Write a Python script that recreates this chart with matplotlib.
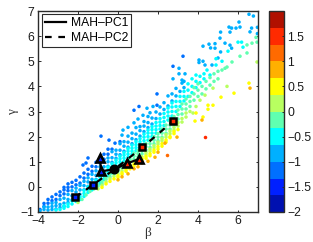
import matplotlib
matplotlib.use('Agg')
import matplotlib.pyplot as plt
from matplotlib.colors import ListedColormap

plt.rcParams['font.family'] = ['Liberation Sans', 'DejaVu Sans']

# each band: colour value, then columns of (beta, [gamma, ...])
blue_val = -1.17
blue_cols = [(-3.9, [-0.9]), (-3.7, [-0.78, -0.66]), (-3.5, [-0.65, -0.5]), (-3.3, [-0.55, -0.4]),
             (-3.1, [-0.5, -0.3]), (-2.9, [-0.35, -0.2]), (-2.7, [-0.28, -0.12, -0.02]),
             (-2.5, [-0.15, -0.02, 0.12]), (-2.3, [0, 0.18]), (-2.1, [0.08, 0.26]), (-1.9, [0.15, 0.4]),
             (-1.7, [0.35, 0.55]), (-1.75, [0.87]), (-1.6, [0.95]), (-1.5, [0.5, 0.7, 1.15]),
             (-1.3, [0.62, 0.82]), (-1.1, [0.8, 0.98]), (-0.9, [0.95, 1.1]), (-0.85, [2.02]),
             (-0.7, [1.1, 1.3]), (-0.5, [1.3, 1.5]), (-0.45, [1.86]), (-0.3, [1.5]), (-0.15, [1.74]),
             (0.1, [1.8]), (0.8, [3.05]), (1.05, [3.2]), (1.95, [3.7, 3.25]), (2.75, [4.8]), (3.25, [5.2])]

sky_val = -0.83
sky_cols = [(-3.9, [-0.95]), (-3.7, [-0.9, -0.8]), (-3.5, [-0.92, -0.8]), (-3.3, [-0.9, -0.78, -0.65]),
            (-3.1, [-0.88, -0.75, -0.62]), (-2.9, [-0.82, -0.7, -0.5]),
            (-2.7, [-0.78, -0.65, -0.45]), (-2.5, [-0.62, -0.5, -0.3]),
            (-2.3, [-0.52, -0.35, -0.15]), (-2.1, [-0.38, -0.2, -0.05]),
            (-1.9, [-0.3, -0.12, 0.06]), (-1.7, [-0.12, 0.05, 0.22]),
            (-1.5, [0.02, 0.2, 0.36]), (-1.3, [0.14, 0.3, 0.5]),
            (-1.1, [0.3, 0.46, 0.64]), (-0.9, [0.44, 0.62, 0.8]),
            (-0.7, [0.62, 0.8, 1.0]), (-0.5, [0.82, 1.0, 1.15]),
            (-0.3, [0.98, 1.16, 1.4]), (-0.1, [1.14, 1.3, 1.46]),
            (0.1, [1.28, 1.46, 1.72]), (0.3, [1.42, 1.62, 1.8]), (0.5, [1.58, 1.78, 2.02]),
            (0.7, [1.72, 1.92, 2.14]), (0.9, [1.88, 2.1, 2.36]), (1.1, [2.02, 2.24, 2.4]),
            (1.3, [2.2, 2.42, 2.6]), (1.5, [2.36, 2.56, 2.8]), (1.7, [2.5, 2.74]),
            (1.9, [2.72, 2.98]), (2.1, [2.9, 3.18]), (2.3, [3.08, 3.35]),
            (2.5, [3.22, 3.62]), (2.7, [3.42, 3.7]), (2.9, [3.62, 3.92]), (3.1, [3.8]),
            (3.3, [3.95, 4.2]), (0.25, [2.26]), (0.5, [2.37]), (0.8, [2.55]), (1.0, [2.7]), (1.25, [2.85]),
            (0.2, [2.06]), (1.6, [2.95]), (1.75, [3.2]), (1.45, [3.13]), (2.75, [4.3]), (3.05, [4.72, 4.5]),
            (3.35, [4.5]), (3.2, [4.25, 4.13]), (4.05, [5.05, 4.95]), (4.25, [5.6, 5.0]), (4.55, [5.68]),
            (4.85, [5.7, 5.52]), (4.63, [5.53]), (5.13, [6.16, 5.37]), (5.1, [5.92]), (5.35, [5.72]),
            (5.6, [6.16, 5.64]), (5.55, [6.36]), (5.68, [6.32, 5.52]), (5.9, [6.32]), (6.05, [6.56]),
            (6.1, [6.36]), (6.55, [6.87]), (6.77, [6.8]), (6.97, [6.35, 6.1]), (6.68, [6.32]), (6.6, [6.17]),
            (4.35, [4.85]), (4.7, [4.85]), (5.0, [5.13])]

cyan_val = -0.5
cyan_cols = [(-3.1, [-0.92]), (-2.9, [-0.9]), (-2.7, [-0.85, -0.75]), (-2.5, [-0.78, -0.68]),
             (-2.3, [-0.68, -0.56]), (-2.1, [-0.58, -0.46]), (-1.9, [-0.5, -0.4]),
             (-1.7, [-0.38, -0.26, -0.14]), (-1.5, [-0.22, -0.1, 0.0]), (-1.3, [-0.12, 0.0, 0.12]),
             (-1.1, [0.04, 0.16, 0.26]), (-0.9, [0.14, 0.26, 0.38]), (-0.7, [0.3, 0.42, 0.54]),
             (-0.5, [0.44, 0.56, 0.68, 0.78]), (-0.3, [0.56, 0.68, 0.8, 0.92]),
             (-0.1, [0.72, 0.84, 0.96, 1.06]), (0.1, [0.88, 1.0, 1.12, 1.22]), (0.3, [1.02, 1.14, 1.26, 1.36]),
             (0.5, [1.18, 1.3, 1.42, 1.52]), (0.7, [1.3, 1.42, 1.54, 1.66]), (0.9, [1.44, 1.56, 1.68, 1.8]),
             (1.1, [1.56, 1.68, 1.8, 1.92]), (1.3, [1.7, 1.84, 1.98, 2.1]), (1.5, [1.86, 2.0, 2.14, 2.26]),
             (1.7, [2.0, 2.14, 2.28, 2.4]), (1.9, [2.14, 2.28, 2.42, 2.56]), (2.1, [2.3, 2.44, 2.58, 2.72]),
             (2.3, [2.44, 2.6, 2.76, 2.92]), (2.5, [2.66, 2.82, 2.98, 3.14]), (2.7, [2.82, 3.0, 3.18, 3.34]),
             (2.9, [3.0, 3.2, 3.4]), (3.1, [3.2, 3.4, 3.6]), (3.3, [3.42, 3.6, 3.8]), (3.5, [3.6, 3.85, 4.1]),
             (3.7, [3.75, 4.0, 4.3]), (3.9, [3.95, 4.2, 4.45]), (4.1, [4.15, 4.4]), (4.3, [4.3, 4.5]),
             (4.45, [4.65]), (4.6, [4.45]), (4.9, [4.85, 5.1]), (5.2, [5.0]), (5.5, [5.4]), (6.0, [5.76]),
             (6.18, [5.76]), (6.25, [5.56])]

mint_val = -0.17
mint_cols = [(-1.8, [-0.5]), (-1.6, [-0.32]), (-1.4, [-0.18]), (-1.2, [-0.08]), (-1.0, [0.02, 0.08]),
             (-0.8, [0.12, 0.2]), (-0.6, [0.3, 0.38]), (-0.4, [0.4, 0.5]), (-0.2, [0.52, 0.62]),
             (0.0, [0.62, 0.74]), (0.2, [0.74, 0.86]), (0.4, [0.86, 0.98]), (0.6, [1.0, 1.1]),
             (0.8, [1.1, 1.22, 1.34]), (1.0, [1.2, 1.32, 1.44]), (1.2, [1.32, 1.44, 1.56]),
             (1.4, [1.46, 1.6, 1.72]), (1.6, [1.58, 1.72, 1.86]), (1.8, [1.72, 1.86, 2.0]),
             (2.0, [1.84, 1.98, 2.12]), (2.2, [1.98, 2.14, 2.3]), (2.4, [2.14, 2.3, 2.46]),
             (2.6, [2.3, 2.46, 2.62]), (2.8, [2.44, 2.62, 2.8]), (3.0, [2.7, 2.88, 3.06]),
             (3.2, [2.9, 3.1, 3.3]), (3.4, [3.1, 3.3, 3.5]), (3.6, [3.2, 3.4, 3.6]), (3.8, [3.45, 3.7, 3.95]),
             (4.0, [3.6, 3.85, 4.1]), (4.2, [3.7, 4.0]), (4.4, [3.9, 4.2]), (4.6, [4.05, 4.35]),
             (4.8, [4.2, 4.5]), (5.0, [4.3, 4.6]), (5.2, [4.65]), (5.35, [4.72]), (5.45, [4.77]), (5.7, [4.97]),
             (6.1, [5.2]), (6.45, [5.33, 5.65]), (6.7, [5.72]), (6.95, [5.76]), (6.9, [5.95])]

lime_val = 0.17
lime_cols = [(-2.0, [-0.62]), (-1.0, [-0.08]), (-0.8, [0.06]), (-0.6, [0.2]), (-0.4, [0.32]), (-0.2, [0.42]),
             (0.0, [0.52]), (0.2, [0.64]), (0.4, [0.76]), (0.6, [0.88]), (0.8, [1.0]), (1.0, [1.08]), (1.2, [1.2]),
             (1.4, [1.3, 1.38]), (1.6, [1.42, 1.5]), (1.8, [1.56, 1.64]), (2.0, [1.7, 1.78]), (2.2, [1.84, 1.92]),
             (2.4, [1.98, 2.08]), (2.6, [2.12, 2.22]), (2.8, [2.26, 2.36]), (3.0, [2.42, 2.56]),
             (3.2, [2.58, 2.72]), (3.4, [2.78, 2.94]), (3.6, [3.0]), (3.75, [2.94]), (3.9, [3.2]), (4.1, [3.45]),
             (4.35, [3.65]), (4.75, [3.93]), (5.45, [4.0]), (6.95, [4.97])]

yellow_val = 0.5
yellow_cols = [(-0.8, [-0.02]), (-0.6, [0.12]), (-0.4, [0.22]), (-0.2, [0.32]), (0.0, [0.38, 0.44]),
               (0.2, [0.5, 0.56]), (0.4, [0.62, 0.68]), (0.6, [0.72, 0.8]), (0.8, [0.84, 0.9]), (1.0, [0.92, 1.0]),
               (1.2, [1.04, 1.12]), (1.4, [1.14, 1.22]), (1.6, [1.24, 1.32]), (1.8, [1.38, 1.46]), (2.0, [1.5, 1.6]),
               (2.2, [1.62, 1.72]), (2.4, [1.78, 1.86]), (2.6, [1.96, 2.0]), (2.8, [2.12, 2.2]), (3.0, [2.28]),
               (3.85, [2.62]), (3.9, [2.94]), (4.25, [2.78]), (4.5, [3.25, 3.09]), (4.75, [3.25]),
               (5.15, [3.57]), (5.8, [3.73]), (6.55, [4.13])]

orange_val = 0.83
orange_cols = [(0.0, [0.28]), (0.2, [0.4]), (0.5, [0.52]), (0.8, [0.72]), (1.0, [0.8]), (1.2, [0.95]),
               (1.5, [1.02]), (1.85, [1.18]), (2.0, [1.38]), (2.35, [1.74]), (2.95, [1.98]), (4.2, [2.66]),
               (6.6, [3.93])]

deep_orange_val = 1.17
deep_orange_cols = [(2.45, [1.26])]

red_val = 1.5
red_cols = [(4.35, [1.98])]

pc1_beta = [-0.9, -0.85, -0.18, 0.47, 1.03]
pc1_gamma = [1.15, 0.62, 0.7, 0.94, 1.1]
pc1_vals = [-1.5, -1.5, 0, 1.5, 1.5]

pc2_beta = [-2.15, -1.27, -0.18, 1.22, 2.77]
pc2_gamma = [-0.42, 0.07, 0.7, 1.57, 2.63]
pc2_vals = [-1.5, -1.5, 0, 1.5, 1.5]

band_colors = ['#0010b0', '#0020ff', '#0070ff', '#00b0ff', '#00ffff', '#60ffb0',
               '#b8ff60', '#ffff00', '#ffb000', '#ff6a00', '#ff2a00', '#b01000']

cbar_ticks = [-2, -1.5, -1, -0.5, 0, 0.5, 1, 1.5]
cbar_labels = ['\u22122', '\u22121.5', '\u22121', '\u22120.5', '0', '0.5', '1', '1.5']

W, H = 313.0, 242.0
edge = '#2b2b2b'
fs = 8.7

fig = plt.figure(figsize=(W / 100, H / 100), dpi=100)
ax = fig.add_axes([38 / W, 1 - 212 / H, 220 / W, 201 / H])
cmap = ListedColormap(band_colors)

bands = [(blue_cols, blue_val), (sky_cols, sky_val), (cyan_cols, cyan_val), (mint_cols, mint_val),
         (lime_cols, lime_val), (yellow_cols, yellow_val), (orange_cols, orange_val),
         (deep_orange_cols, deep_orange_val), (red_cols, red_val)]
for cols, val in bands:
    xs = [b for b, gs in cols for g in gs]
    ys = [g for b, gs in cols for g in gs]
    sc = ax.scatter(xs, ys, c=[val] * len(xs), s=6.5, linewidths=0, cmap=cmap, vmin=-2, vmax=2, zorder=2)

# lines go first, the legend takes them
ax.plot(pc1_beta, pc1_gamma, '-', color='k', lw=1.6, zorder=3, label='MAH\u2013PC1')
ax.plot(pc2_beta, pc2_gamma, '--', color='k', lw=1.6, dashes=(3, 3), zorder=3, label='MAH\u2013PC2')

for i in [0, 1, 3, 4]:
    ax.plot(pc1_beta[i], pc1_gamma[i], '^', ms=6.2, mew=1.9, mec='k', zorder=4,
            mfc=cmap((pc1_vals[i] + 2) / 4))
    ax.plot(pc2_beta[i], pc2_gamma[i], 's', ms=4.6, mew=1.8, mec='k', zorder=4,
            mfc=cmap((pc2_vals[i] + 2) / 4))
ax.plot(pc1_beta[2], pc1_gamma[2], 'o', ms=6.2, color='k', zorder=5)

ax.set_xlim(-4, 7)
ax.set_ylim(-1, 7)
ax.set_xticks([-4, -2, 0, 2, 4, 6])
ax.set_xticklabels(['\u22124', '\u22122', '0', '2', '4', '6'])
ax.set_yticks(range(-1, 8))
ax.set_yticklabels(['\u22121', '0', '1', '2', '3', '4', '5', '6', '7'])
ax.tick_params(direction='in', length=1.8, width=0.7, top=True, right=True, labelsize=fs, pad=2.5,
               color=edge, labelcolor='#1a1a1a')
for s in ax.spines.values():
    s.set_linewidth(1.0)
    s.set_color(edge)

ax.text(148 / W, 1 - 233 / H, '\u03b2', transform=fig.transFigure, family='Liberation Serif', fontsize=9.5,
        ha='center', va='center', color='#333333')
ax.text(13 / W, 1 - 112 / H, '\u03b3', transform=fig.transFigure, family='Liberation Serif', fontsize=9.5,
        rotation=90, ha='center', va='center', color='#333333')

leg = ax.legend(loc='upper left', bbox_to_anchor=(3.7 / 220, 1 - 3.3 / 201), borderaxespad=0, fontsize=fs,
                handlelength=1.8, handletextpad=0.35, labelspacing=0.2, borderpad=0.25, fancybox=False,
                framealpha=1, edgecolor=edge)
leg.get_frame().set_linewidth(0.8)
leg.set_zorder(10)

cax = fig.add_axes([269 / W, 1 - 212 / H, 15 / W, 201 / H])
cb = fig.colorbar(sc, cax=cax, ticks=cbar_ticks)
cb.ax.set_yticklabels(cbar_labels)
cb.ax.tick_params(direction='in', length=1.8, width=0.7, labelsize=fs, pad=2.5, color=edge,
                  labelcolor='#1a1a1a')
cb.outline.set_linewidth(1.0)
cb.outline.set_edgecolor(edge)

fig.savefig('out.png', dpi=100)
